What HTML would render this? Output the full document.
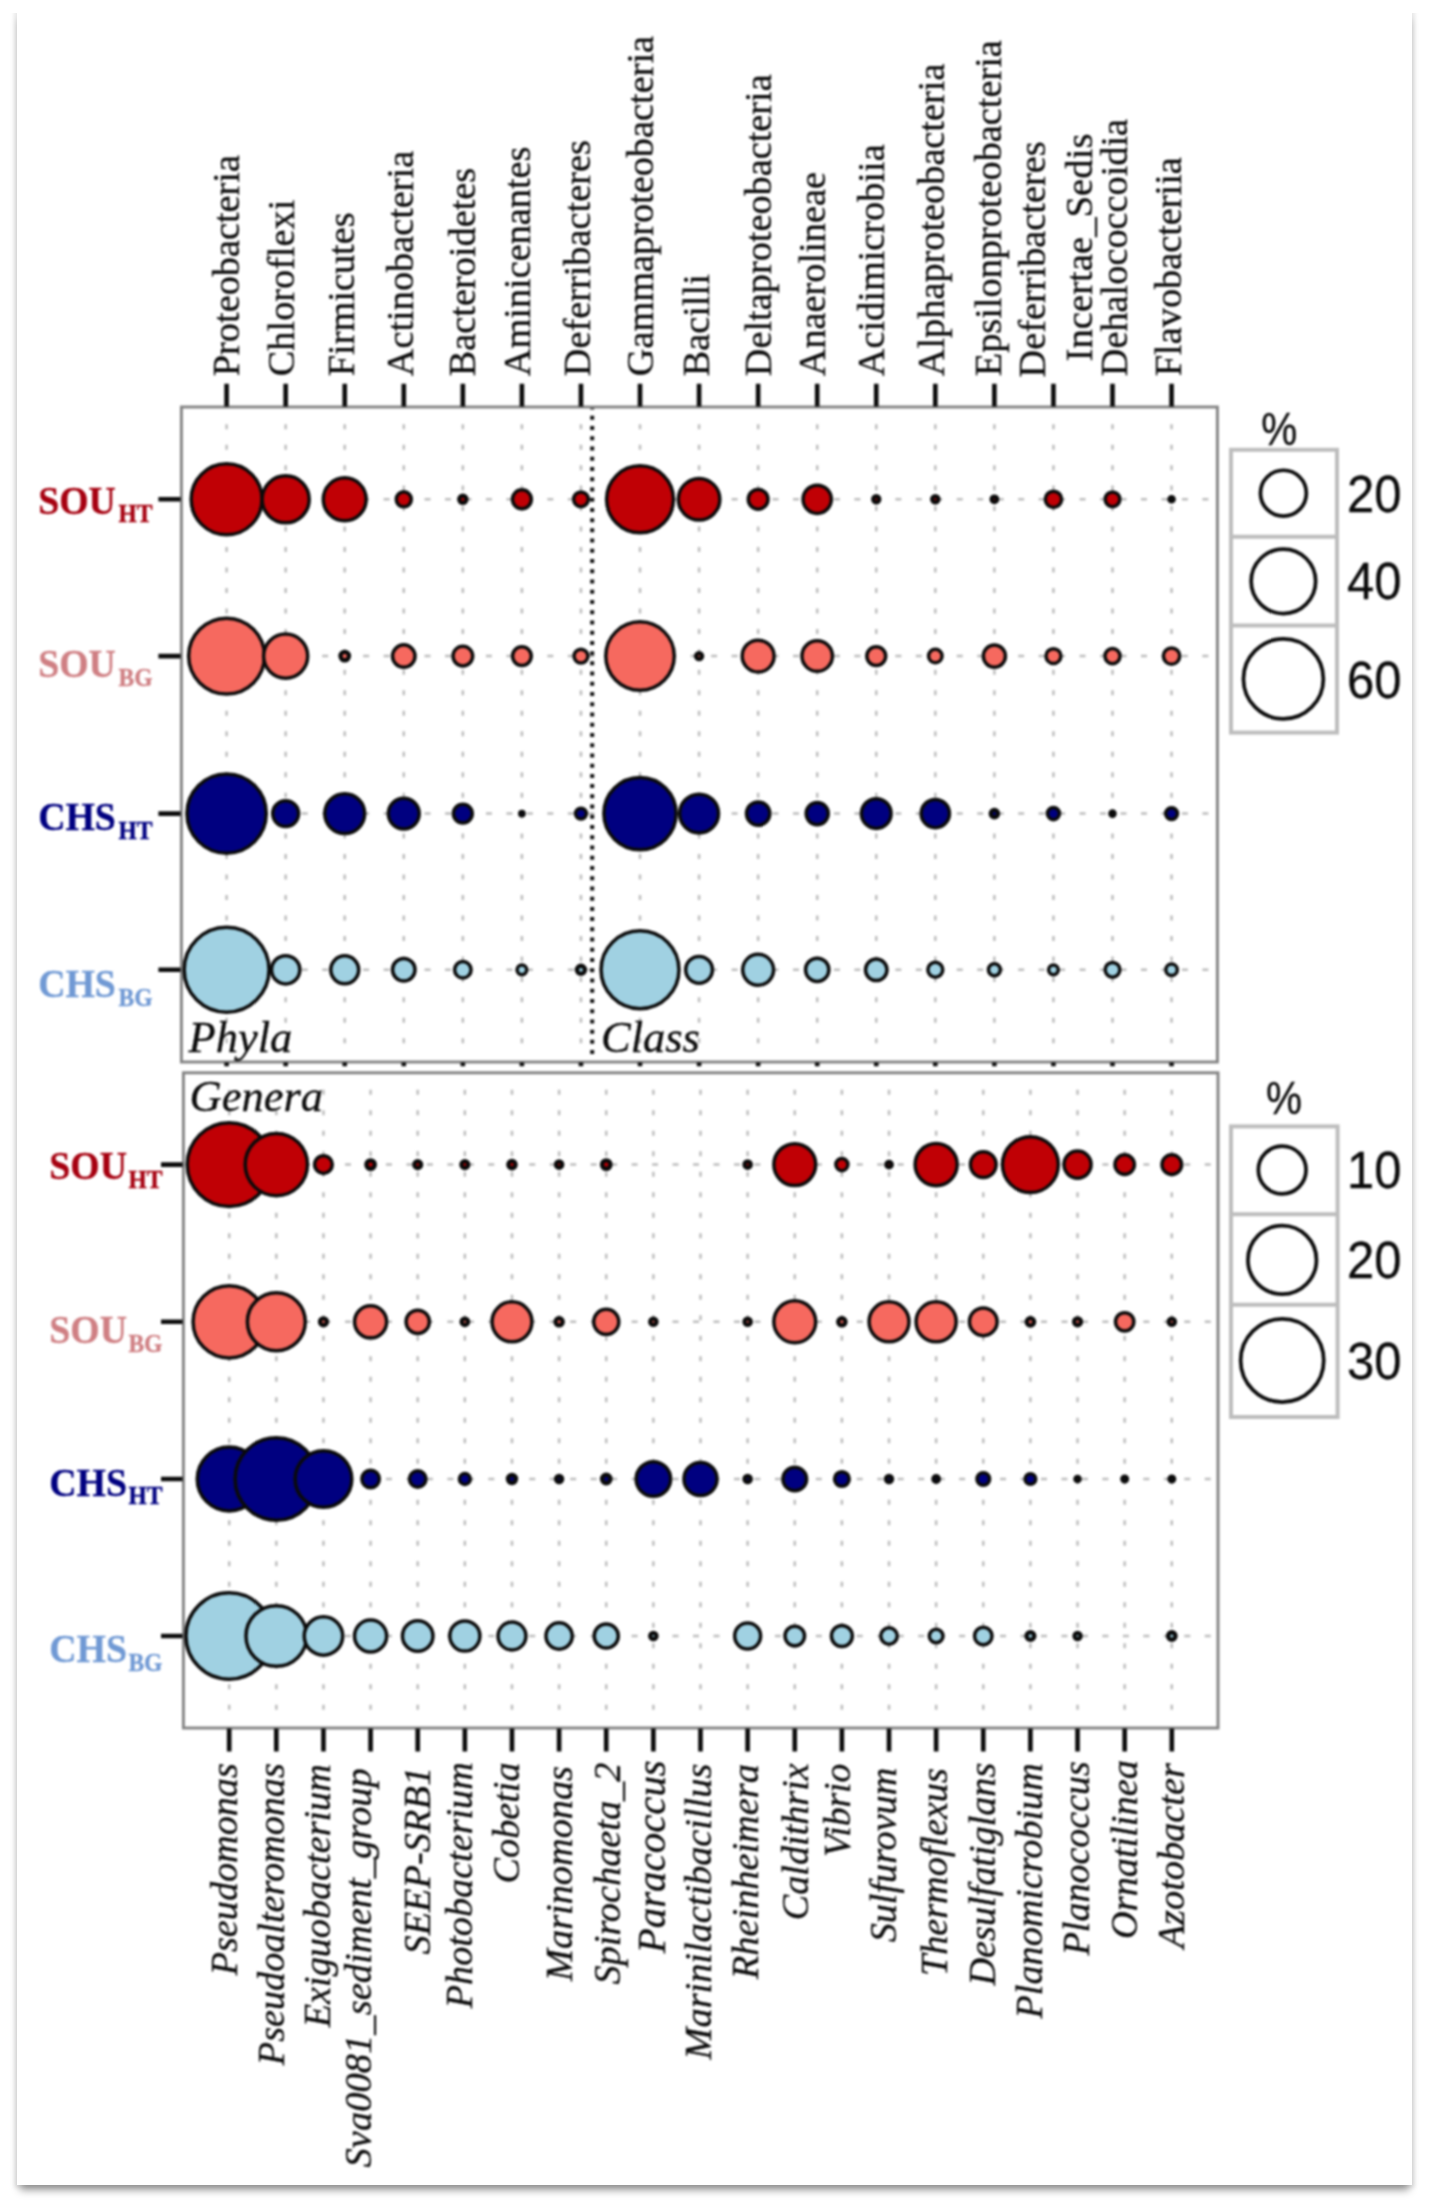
<!DOCTYPE html>
<html lang="en"><head><meta charset="utf-8"><title>Relative abundance bubble plot</title>
<style>
html,body{margin:0;padding:0;background:#fff;}
body{width:1429px;height:2209px;position:relative;overflow:hidden;}
#card{position:absolute;left:17px;top:9px;width:1395px;height:2176px;background:#fff;
 box-shadow:0 0 4px 3px rgba(0,0,0,.085),0 8px 8px -3px rgba(0,0,0,.40);}
#cover{position:absolute;left:8px;top:0;width:1413px;height:13px;background:#fff;}
svg{position:absolute;left:0;top:0;display:block;filter:blur(0.8px);}
</style></head><body>
<div id="card"></div><div id="cover"></div>
<svg width="1429" height="2209" viewBox="0 0 1429 2209">
<g stroke="#bdbdbd" stroke-width="2.5" fill="none">
<path stroke-dasharray="5 15.47" d="M226.6 424.2V1043.4"/>
<path stroke-dasharray="5 15.47" d="M285.66 424.2V1043.4"/>
<path stroke-dasharray="5 15.47" d="M344.72 424.2V1043.4"/>
<path stroke-dasharray="5 15.47" d="M403.78 424.2V1043.4"/>
<path stroke-dasharray="5 15.47" d="M462.84 424.2V1043.4"/>
<path stroke-dasharray="5 15.47" d="M521.9 424.2V1043.4"/>
<path stroke-dasharray="5 15.47" d="M580.96 424.2V1043.4"/>
<path stroke-dasharray="5 15.47" d="M640.02 424.2V1043.4"/>
<path stroke-dasharray="5 15.47" d="M699.08 424.2V1043.4"/>
<path stroke-dasharray="5 15.47" d="M758.14 424.2V1043.4"/>
<path stroke-dasharray="5 15.47" d="M817.2 424.2V1043.4"/>
<path stroke-dasharray="5 15.47" d="M876.26 424.2V1043.4"/>
<path stroke-dasharray="5 15.47" d="M935.32 424.2V1043.4"/>
<path stroke-dasharray="5 15.47" d="M994.38 424.2V1043.4"/>
<path stroke-dasharray="5 15.47" d="M1053.44 424.2V1043.4"/>
<path stroke-dasharray="5 15.47" d="M1112.5 424.2V1043.4"/>
<path stroke-dasharray="5 15.47" d="M1171.56 424.2V1043.4"/>
<path stroke-dasharray="6 14.47" d="M199.37 499.3H1211.4"/>
<path stroke-dasharray="6 14.47" d="M199.37 656.1H1211.4"/>
<path stroke-dasharray="6 14.47" d="M199.37 813.6H1211.4"/>
<path stroke-dasharray="6 14.47" d="M199.37 969.8H1211.4"/>
</g>
<path d="M592.2 406V1056" stroke="#111" stroke-width="4" stroke-dasharray="4 6.23" stroke-dashoffset="-9.84" fill="none"/>
<g stroke="#bdbdbd" stroke-width="2.5" fill="none">
<path stroke-dasharray="5 15.5" d="M229.2 1089.7V1709.8"/>
<path stroke-dasharray="5 15.5" d="M276.33 1089.7V1709.8"/>
<path stroke-dasharray="5 15.5" d="M323.46 1089.7V1709.8"/>
<path stroke-dasharray="5 15.5" d="M370.59 1089.7V1709.8"/>
<path stroke-dasharray="5 15.5" d="M417.72 1089.7V1709.8"/>
<path stroke-dasharray="5 15.5" d="M464.85 1089.7V1709.8"/>
<path stroke-dasharray="5 15.5" d="M511.98 1089.7V1709.8"/>
<path stroke-dasharray="5 15.5" d="M559.11 1089.7V1709.8"/>
<path stroke-dasharray="5 15.5" d="M606.24 1089.7V1709.8"/>
<path stroke-dasharray="5 15.5" d="M653.37 1089.7V1709.8"/>
<path stroke-dasharray="5 15.5" d="M700.5 1089.7V1709.8"/>
<path stroke-dasharray="5 15.5" d="M747.63 1089.7V1709.8"/>
<path stroke-dasharray="5 15.5" d="M794.76 1089.7V1709.8"/>
<path stroke-dasharray="5 15.5" d="M841.89 1089.7V1709.8"/>
<path stroke-dasharray="5 15.5" d="M889.02 1089.7V1709.8"/>
<path stroke-dasharray="5 15.5" d="M936.15 1089.7V1709.8"/>
<path stroke-dasharray="5 15.5" d="M983.28 1089.7V1709.8"/>
<path stroke-dasharray="5 15.5" d="M1030.41 1089.7V1709.8"/>
<path stroke-dasharray="5 15.5" d="M1077.54 1089.7V1709.8"/>
<path stroke-dasharray="5 15.5" d="M1124.67 1089.7V1709.8"/>
<path stroke-dasharray="5 15.5" d="M1171.8 1089.7V1709.8"/>
<path stroke-dasharray="6 14.47" d="M201.73 1164.6H1212"/>
<path stroke-dasharray="6 14.47" d="M201.73 1321.8H1212"/>
<path stroke-dasharray="6 14.47" d="M201.73 1479H1212"/>
<path stroke-dasharray="6 14.47" d="M201.73 1636H1212"/>
</g>
<g fill="none" stroke="#828282" stroke-width="2.9">
<rect x="181.4" y="407" width="1036" height="655"/>
<rect x="183.4" y="1072.8" width="1034.6" height="655.2"/>
</g>
<g stroke="#0a0a0a" stroke-width="4.6" fill="none">
<path d="M226.6 383.8V406.6M226.6 1062.6V1066.2M285.66 383.8V406.6M285.66 1062.6V1066.2M344.72 383.8V406.6M344.72 1062.6V1066.2M403.78 383.8V406.6M403.78 1062.6V1066.2M462.84 383.8V406.6M462.84 1062.6V1066.2M521.9 383.8V406.6M521.9 1062.6V1066.2M580.96 383.8V406.6M580.96 1062.6V1066.2M640.02 383.8V406.6M640.02 1062.6V1066.2M699.08 383.8V406.6M699.08 1062.6V1066.2M758.14 383.8V406.6M758.14 1062.6V1066.2M817.2 383.8V406.6M817.2 1062.6V1066.2M876.26 383.8V406.6M876.26 1062.6V1066.2M935.32 383.8V406.6M935.32 1062.6V1066.2M994.38 383.8V406.6M994.38 1062.6V1066.2M1053.44 383.8V406.6M1053.44 1062.6V1066.2M1112.5 383.8V406.6M1112.5 1062.6V1066.2M1171.56 383.8V406.6M1171.56 1062.6V1066.2M229.2 1728.4V1751.6M276.33 1728.4V1751.6M323.46 1728.4V1751.6M370.59 1728.4V1751.6M417.72 1728.4V1751.6M464.85 1728.4V1751.6M511.98 1728.4V1751.6M559.11 1728.4V1751.6M606.24 1728.4V1751.6M653.37 1728.4V1751.6M700.5 1728.4V1751.6M747.63 1728.4V1751.6M794.76 1728.4V1751.6M841.89 1728.4V1751.6M889.02 1728.4V1751.6M936.15 1728.4V1751.6M983.28 1728.4V1751.6M1030.41 1728.4V1751.6M1077.54 1728.4V1751.6M1124.67 1728.4V1751.6M1171.8 1728.4V1751.6M158.4 499.3H180.6M158.4 656.1H180.6M158.4 813.6H180.6M158.4 969.8H180.6M161 1164.6H182.6M161 1321.8H182.6M161 1479H182.6M161 1636H182.6"/>
</g>
<g stroke="#0a0a0a" stroke-width="3.5">
<g fill="#c00005">
<circle cx="226.6" cy="499.3" r="35.45"/>
<circle cx="285.66" cy="499.3" r="23.55"/>
<circle cx="344.72" cy="499.3" r="21.45"/>
<circle cx="403.78" cy="499.3" r="7.55"/>
<circle cx="462.84" cy="499.3" r="3.65" stroke-width="4.3"/>
<circle cx="521.9" cy="499.3" r="9.45"/>
<circle cx="580.96" cy="499.3" r="7.35"/>
<circle cx="640.02" cy="499.3" r="33.45"/>
<circle cx="699.08" cy="499.3" r="20.75"/>
<circle cx="758.14" cy="499.3" r="9.85"/>
<circle cx="817.2" cy="499.3" r="14.15"/>
<circle cx="876.26" cy="499.3" r="3.05" stroke-width="4.3"/>
<circle cx="935.32" cy="499.3" r="3.15" stroke-width="4.3"/>
<circle cx="994.38" cy="499.3" r="2.75" stroke-width="4.3"/>
<circle cx="1053.44" cy="499.3" r="8.15"/>
<circle cx="1112.5" cy="499.3" r="7.35"/>
<circle cx="1171.56" cy="499.3" r="2.15" stroke-width="4.3"/>
</g>
<g fill="#f6695f">
<circle cx="226.6" cy="656.1" r="37.95"/>
<circle cx="285.66" cy="656.1" r="22.05"/>
<circle cx="344.72" cy="656.1" r="4.25" stroke-width="4.3"/>
<circle cx="403.78" cy="656.1" r="11.25"/>
<circle cx="462.84" cy="656.1" r="9.85"/>
<circle cx="521.9" cy="656.1" r="9.35"/>
<circle cx="580.96" cy="656.1" r="6.95"/>
<circle cx="640.02" cy="656.1" r="34.25"/>
<circle cx="699.08" cy="656.1" r="3.05" stroke-width="4.3"/>
<circle cx="758.14" cy="656.1" r="15.95"/>
<circle cx="817.2" cy="656.1" r="15.25"/>
<circle cx="876.26" cy="656.1" r="9.45"/>
<circle cx="935.32" cy="656.1" r="6.75"/>
<circle cx="994.38" cy="656.1" r="11.05"/>
<circle cx="1053.44" cy="656.1" r="7.45"/>
<circle cx="1112.5" cy="656.1" r="7.55"/>
<circle cx="1171.56" cy="656.1" r="8.15"/>
</g>
<g fill="#000080">
<circle cx="226.6" cy="813.6" r="39.65"/>
<circle cx="285.66" cy="813.6" r="12.95"/>
<circle cx="344.72" cy="813.6" r="19.95"/>
<circle cx="403.78" cy="813.6" r="15.45"/>
<circle cx="462.84" cy="813.6" r="9.45"/>
<circle cx="521.9" cy="813.6" r="1.75" stroke-width="4.3"/>
<circle cx="580.96" cy="813.6" r="5.45"/>
<circle cx="640.02" cy="813.6" r="36.15"/>
<circle cx="699.08" cy="813.6" r="19.45"/>
<circle cx="758.14" cy="813.6" r="11.65"/>
<circle cx="817.2" cy="813.6" r="11.05"/>
<circle cx="876.26" cy="813.6" r="14.85"/>
<circle cx="935.32" cy="813.6" r="14.15"/>
<circle cx="994.38" cy="813.6" r="3.65" stroke-width="4.3"/>
<circle cx="1053.44" cy="813.6" r="6.05"/>
<circle cx="1112.5" cy="813.6" r="2.15" stroke-width="4.3"/>
<circle cx="1171.56" cy="813.6" r="5.95"/>
</g>
<g fill="#a0d1e2">
<circle cx="226.6" cy="969.8" r="42.45"/>
<circle cx="285.66" cy="969.8" r="14.15"/>
<circle cx="344.72" cy="969.8" r="13.95"/>
<circle cx="403.78" cy="969.8" r="11.25"/>
<circle cx="462.84" cy="969.8" r="8.25"/>
<circle cx="521.9" cy="969.8" r="4.85"/>
<circle cx="580.96" cy="969.8" r="4.05" stroke-width="4.3"/>
<circle cx="640.02" cy="969.8" r="38.95"/>
<circle cx="699.08" cy="969.8" r="13.35"/>
<circle cx="758.14" cy="969.8" r="15.45"/>
<circle cx="817.2" cy="969.8" r="11.65"/>
<circle cx="876.26" cy="969.8" r="10.75"/>
<circle cx="935.32" cy="969.8" r="7.45"/>
<circle cx="994.38" cy="969.8" r="5.95"/>
<circle cx="1053.44" cy="969.8" r="4.85"/>
<circle cx="1112.5" cy="969.8" r="7.35"/>
<circle cx="1171.56" cy="969.8" r="5.75"/>
</g>
<g fill="#c00005">
<circle cx="229.2" cy="1164.6" r="41.95"/>
<circle cx="276.33" cy="1164.6" r="31.15"/>
<circle cx="323.46" cy="1164.6" r="8.85"/>
<circle cx="370.59" cy="1164.6" r="4.25" stroke-width="4.3"/>
<circle cx="417.72" cy="1164.6" r="3.45" stroke-width="4.3"/>
<circle cx="464.85" cy="1164.6" r="3.45" stroke-width="4.3"/>
<circle cx="511.98" cy="1164.6" r="3.65" stroke-width="4.3"/>
<circle cx="559.11" cy="1164.6" r="3.15" stroke-width="4.3"/>
<circle cx="606.24" cy="1164.6" r="4.25" stroke-width="4.3"/>
<circle cx="747.63" cy="1164.6" r="3.15" stroke-width="4.3"/>
<circle cx="794.76" cy="1164.6" r="20.95"/>
<circle cx="841.89" cy="1164.6" r="6.05"/>
<circle cx="889.02" cy="1164.6" r="2.75" stroke-width="4.3"/>
<circle cx="936.15" cy="1164.6" r="21.05"/>
<circle cx="983.28" cy="1164.6" r="12.85"/>
<circle cx="1030.41" cy="1164.6" r="27.95"/>
<circle cx="1077.54" cy="1164.6" r="13.55"/>
<circle cx="1124.67" cy="1164.6" r="9.75"/>
<circle cx="1171.8" cy="1164.6" r="9.85"/>
</g>
<g fill="#f6695f">
<circle cx="229.2" cy="1321.8" r="36.15"/>
<circle cx="276.33" cy="1321.8" r="28.95"/>
<circle cx="323.46" cy="1321.8" r="3.45" stroke-width="4.3"/>
<circle cx="370.59" cy="1321.8" r="16.05"/>
<circle cx="417.72" cy="1321.8" r="11.65"/>
<circle cx="464.85" cy="1321.8" r="3.25" stroke-width="4.3"/>
<circle cx="511.98" cy="1321.8" r="19.95"/>
<circle cx="559.11" cy="1321.8" r="3.65" stroke-width="4.3"/>
<circle cx="606.24" cy="1321.8" r="12.55"/>
<circle cx="653.37" cy="1321.8" r="3.15" stroke-width="4.3"/>
<circle cx="747.63" cy="1321.8" r="3.15" stroke-width="4.3"/>
<circle cx="794.76" cy="1321.8" r="20.95"/>
<circle cx="841.89" cy="1321.8" r="3.65" stroke-width="4.3"/>
<circle cx="889.02" cy="1321.8" r="19.95"/>
<circle cx="936.15" cy="1321.8" r="20.05"/>
<circle cx="983.28" cy="1321.8" r="13.85"/>
<circle cx="1030.41" cy="1321.8" r="3.75" stroke-width="4.3"/>
<circle cx="1077.54" cy="1321.8" r="3.45" stroke-width="4.3"/>
<circle cx="1124.67" cy="1321.8" r="9.15"/>
<circle cx="1171.8" cy="1321.8" r="3.15" stroke-width="4.3"/>
</g>
<g fill="#000080">
<circle cx="229.2" cy="1479" r="31.95"/>
<circle cx="276.33" cy="1479" r="41.25"/>
<circle cx="323.46" cy="1479" r="28.35"/>
<circle cx="370.59" cy="1479" r="8.75"/>
<circle cx="417.72" cy="1479" r="8.25"/>
<circle cx="464.85" cy="1479" r="5.45"/>
<circle cx="511.98" cy="1479" r="4.05" stroke-width="4.3"/>
<circle cx="559.11" cy="1479" r="3.05" stroke-width="4.3"/>
<circle cx="606.24" cy="1479" r="4.25" stroke-width="4.3"/>
<circle cx="653.37" cy="1479" r="17.25"/>
<circle cx="700.5" cy="1479" r="16.55"/>
<circle cx="747.63" cy="1479" r="3.15" stroke-width="4.3"/>
<circle cx="794.76" cy="1479" r="11.85"/>
<circle cx="841.89" cy="1479" r="7.35"/>
<circle cx="889.02" cy="1479" r="3.05" stroke-width="4.3"/>
<circle cx="936.15" cy="1479" r="2.75" stroke-width="4.3"/>
<circle cx="983.28" cy="1479" r="6.35"/>
<circle cx="1030.41" cy="1479" r="5.35"/>
<circle cx="1077.54" cy="1479" r="2.15" stroke-width="4.3"/>
<circle cx="1124.67" cy="1479" r="2.35" stroke-width="4.3"/>
<circle cx="1171.8" cy="1479" r="2.35" stroke-width="4.3"/>
</g>
<g fill="#a0d1e2">
<circle cx="229.2" cy="1636" r="43.25"/>
<circle cx="276.33" cy="1636" r="30.35"/>
<circle cx="323.46" cy="1636" r="19.25"/>
<circle cx="370.59" cy="1636" r="16.05"/>
<circle cx="417.72" cy="1636" r="15.25"/>
<circle cx="464.85" cy="1636" r="15.05"/>
<circle cx="511.98" cy="1636" r="13.95"/>
<circle cx="559.11" cy="1636" r="13.15"/>
<circle cx="606.24" cy="1636" r="12.05"/>
<circle cx="653.37" cy="1636" r="3.15" stroke-width="4.3"/>
<circle cx="747.63" cy="1636" r="12.95"/>
<circle cx="794.76" cy="1636" r="9.75"/>
<circle cx="841.89" cy="1636" r="10.45"/>
<circle cx="889.02" cy="1636" r="8.25"/>
<circle cx="936.15" cy="1636" r="6.85"/>
<circle cx="983.28" cy="1636" r="8.75"/>
<circle cx="1030.41" cy="1636" r="3.95" stroke-width="4.3"/>
<circle cx="1077.54" cy="1636" r="3.05" stroke-width="4.3"/>
<circle cx="1171.8" cy="1636" r="3.75" stroke-width="4.3"/>
</g>
</g>
<g font-family="'Liberation Serif','Times New Roman',serif" font-style="italic" font-size="44.5" fill="#0a0a0a" stroke="#0a0a0a" stroke-width="0.3">
<text x="188.5" y="1051.5">Phyla</text>
<text x="601" y="1051.5">Class</text>
<text x="189.5" y="1110.5">Genera</text>
</g>
<g font-family="'Liberation Serif','Times New Roman',serif" font-weight="bold">
<text transform="translate(38.2 513.5) scale(1 1.07)" font-size="37.8" fill="#a60010" stroke="#a60010" stroke-width="0.3">SOU<tspan font-size="23.6" dy="8.4" dx="2.6">HT</tspan></text>
<text transform="translate(38.2 677.3) scale(1 1.07)" font-size="37.8" fill="#cf7f83" stroke="#cf7f83" stroke-width="0.3">SOU<tspan font-size="23.6" dy="8.4" dx="2.6">BG</tspan></text>
<text transform="translate(38.2 830.1) scale(1 1.07)" font-size="37.8" fill="#000080" stroke="#000080" stroke-width="0.3">CHS<tspan font-size="23.6" dy="8.4" dx="2.6">HT</tspan></text>
<text transform="translate(38.2 996.7) scale(1 1.07)" font-size="37.8" fill="#7099d4" stroke="#7099d4" stroke-width="0.3">CHS<tspan font-size="23.6" dy="8.4" dx="2.6">BG</tspan></text>
<text transform="translate(49.3 1178.7) scale(1 1.07)" font-size="37.8" fill="#a60010" stroke="#a60010" stroke-width="0.3">SOU<tspan font-size="23.6" dy="8.4" dx="1.4">HT</tspan></text>
<text transform="translate(49.3 1343) scale(1 1.07)" font-size="37.8" fill="#cf7f83" stroke="#cf7f83" stroke-width="0.3">SOU<tspan font-size="23.6" dy="8.4" dx="1.4">BG</tspan></text>
<text transform="translate(49.3 1495.5) scale(1 1.07)" font-size="37.8" fill="#000080" stroke="#000080" stroke-width="0.3">CHS<tspan font-size="23.6" dy="8.4" dx="1.4">HT</tspan></text>
<text transform="translate(49.3 1661.9) scale(1 1.07)" font-size="37.8" fill="#7099d4" stroke="#7099d4" stroke-width="0.3">CHS<tspan font-size="23.6" dy="8.4" dx="1.4">BG</tspan></text>
</g>
<g font-family="'Liberation Serif','Times New Roman',serif" font-size="38.3" fill="#0a0a0a" stroke="#0a0a0a" stroke-width="0.3">
<text transform="translate(238.9 376.2) rotate(-90)">Proteobacteria</text>
<text transform="translate(294.3 376.2) rotate(-90)">Chloroflexi</text>
<text transform="translate(353.8 376.2) rotate(-90)">Firmicutes</text>
<text transform="translate(412.5 376.2) rotate(-90)">Actinobacteria</text>
<text transform="translate(474.5 376.2) rotate(-90)">Bacteroidetes</text>
<text transform="translate(530 376.2) rotate(-90)">Aminicenantes</text>
<text transform="translate(589.6 376.2) rotate(-90)">Deferribacteres</text>
<text transform="translate(652.8 376.2) rotate(-90)">Gammaproteobacteria</text>
<text transform="translate(709.3 376.2) rotate(-90)">Bacilli</text>
<text transform="translate(770.8 376.2) rotate(-90)">Deltaproteobacteria</text>
<text transform="translate(824.6 376.2) rotate(-90)">Anaerolineae</text>
<text transform="translate(884.4 376.2) rotate(-90)">Acidimicrobiia</text>
<text transform="translate(943.8 376.2) rotate(-90)">Alphaproteobacteria</text>
<text transform="translate(1000.9 376.2) rotate(-90)">Epsilonproteobacteria</text>
<text transform="translate(1045.3 377.4) rotate(-90)">Deferribacteres</text>
<text transform="translate(1091.7 361.5) rotate(-90)" textLength="228" lengthAdjust="spacingAndGlyphs">Incertae_Sedis</text>
<text transform="translate(1127 376.2) rotate(-90)">Dehalococcoidia</text>
<text transform="translate(1181 376.2) rotate(-90)">Flavobacteriia</text>
</g>
<g font-family="'Liberation Serif','Times New Roman',serif" font-style="italic" fill="#0a0a0a" stroke="#0a0a0a" stroke-width="0.3" text-anchor="end">
<text transform="translate(236.6 1763.2) rotate(-90)" font-size="38.2">Pseudomonas</text>
<text transform="translate(283.8 1763.2) rotate(-90)" font-size="38.2">Pseudoalteromonas</text>
<text transform="translate(330.2 1764.2) rotate(-90)" font-size="38.2">Exiguobacterium</text>
<text transform="translate(371 1768.2) rotate(-90)" font-size="38.6">Sva0081_sediment_group</text>
<text transform="translate(429.8 1766.9) rotate(-90)" font-size="38.4">SEEP-SRB1</text>
<text transform="translate(472.4 1762.2) rotate(-90)" font-size="38.2">Photobacterium</text>
<text transform="translate(519.3 1762.5) rotate(-90)" font-size="38.2">Cobetia</text>
<text transform="translate(571.7 1766) rotate(-90)" font-size="38.3">Marinomonas</text>
<text transform="translate(620.2 1762.6) rotate(-90)" font-size="38.3">Spirochaeta_2</text>
<text transform="translate(664.8 1760.2) rotate(-90)" font-size="40.9">Paracoccus</text>
<text transform="translate(710.5 1763.7) rotate(-90)" font-size="38.3">Marinilactibacillus</text>
<text transform="translate(758.2 1764.2) rotate(-90)" font-size="38.3">Rheinheimera</text>
<text transform="translate(808.2 1763.2) rotate(-90)" font-size="38.2">Caldithrix</text>
<text transform="translate(849.8 1763.7) rotate(-90)" font-size="37.6">Vibrio</text>
<text transform="translate(896 1767.7) rotate(-90)" font-size="38.2">Sulfurovum</text>
<text transform="translate(947.4 1768.2) rotate(-90)" font-size="38.2">Thermoflexus</text>
<text transform="translate(995.1 1762.7) rotate(-90)" font-size="38.2">Desulfatiglans</text>
<text transform="translate(1042.2 1763.2) rotate(-90)" font-size="38.2">Planomicrobium</text>
<text transform="translate(1089.2 1761.2) rotate(-90)" font-size="38">Planococcus</text>
<text transform="translate(1136.5 1760.2) rotate(-90)" font-size="38.3">Ornatilinea</text>
<text transform="translate(1183.7 1763.2) rotate(-90)" font-size="38.3">Azotobacter</text>
</g>
<g fill="none" stroke="#bdbdbd" stroke-width="4">
<rect x="1231" y="449.8" width="106" height="282.8"/>
<path d="M1231 536.8H1337"/>
<path d="M1231 625.5H1337"/>
</g>
<g fill="#fff" stroke="#0a0a0a" stroke-width="3.7">
<circle cx="1283.4" cy="493.2" r="22.95"/>
<circle cx="1283.4" cy="581.3" r="32.25"/>
<circle cx="1283.4" cy="678.9" r="39.95"/>
</g>
<g font-family="'Liberation Sans',Arial,sans-serif" fill="#0a0a0a" stroke="#0a0a0a" stroke-width="0.3">
<text transform="translate(1279.3 445.2) scale(0.9 1.03)" font-size="45" text-anchor="middle">%</text>
<text transform="translate(1401.5 511.5) scale(1.01 1.05)" font-size="48.5" text-anchor="end">20</text>
<text transform="translate(1401.5 599) scale(1.01 1.05)" font-size="48.5" text-anchor="end">40</text>
<text transform="translate(1401.5 697.5) scale(1.01 1.05)" font-size="48.5" text-anchor="end">60</text>
</g>
<g fill="none" stroke="#bdbdbd" stroke-width="4">
<rect x="1231" y="1126.4" width="106.6" height="290.6"/>
<path d="M1231 1214.2H1337.6"/>
<path d="M1231 1304.7H1337.6"/>
</g>
<g fill="#fff" stroke="#0a0a0a" stroke-width="3.7">
<circle cx="1282.2" cy="1170" r="23.85"/>
<circle cx="1282.2" cy="1259.9" r="34.25"/>
<circle cx="1282.2" cy="1360.5" r="41.55"/>
</g>
<g font-family="'Liberation Sans',Arial,sans-serif" fill="#0a0a0a" stroke="#0a0a0a" stroke-width="0.3">
<text transform="translate(1284 1114.4) scale(0.9 1.03)" font-size="45" text-anchor="middle">%</text>
<text transform="translate(1401.5 1187.7) scale(1.01 1.05)" font-size="48.5" text-anchor="end">10</text>
<text transform="translate(1401.5 1277.8) scale(1.01 1.05)" font-size="48.5" text-anchor="end">20</text>
<text transform="translate(1401.5 1378.8) scale(1.01 1.05)" font-size="48.5" text-anchor="end">30</text>
</g>
</svg>
</body></html>
